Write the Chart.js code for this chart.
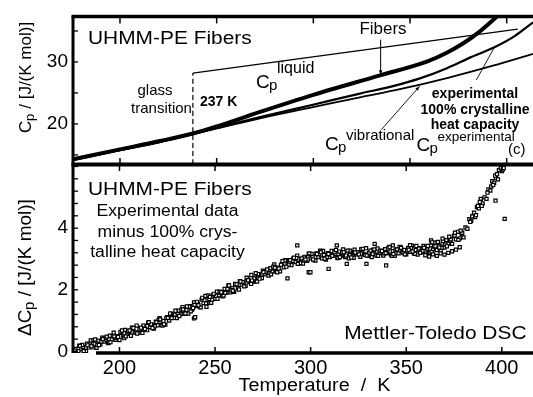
<!DOCTYPE html>
<html>
<head>
<meta charset="utf-8">
<title>UHMM-PE Fibers heat capacity</title>
<script src="https://cdn.jsdelivr.net/npm/chart.js@4"></script>
<style>
  html, body { margin: 0; padding: 0; background: #fff; }
  #wrap { position: relative; width: 533px; height: 397px; }
  #wrap canvas { position: absolute; left: 0; top: 0; }
</style>
</head>
<body>
<div id="wrap">
  <canvas id="top-chart" width="533" height="397"></canvas>
  <canvas id="bottom-chart" width="533" height="397"></canvas>
</div>
<script>
// Axis ranges and ticks
const xRange = [175.7, 413.6];
const xTicks = [200, 250, 300, 350, 400];
const topRange = [13.54, 37.35];
const topLabelTicks = [20, 30];
const topMinorTicks = [15, 25, 35];
const bottomRange = [-0.05, 6.08];
const bottomLabelTicks = [0, 2, 4];
const bottomMinorTicks = [0.4, 0.8, 1.2, 1.6, 2.4, 2.8, 3.2, 3.6, 4.4, 4.8, 5.2, 5.6, 6.0];

// Top panel curves (T in K, Cp in J/(K mol))
const fibersT  = [175.7, 200, 220, 237.7, 250, 272, 300, 334, 359, 369, 378, 386, 396];
const fibersCp = [14.3, 15.9, 17.2, 18.46, 19.6, 21.9, 24.7, 27.8, 30.1, 31.5, 33.1, 34.9, 37.6];
const crystT   = [175.7, 200, 220, 237.7, 272.4, 299.8, 324.1, 341.2, 355.1, 369.1, 381, 393.9, 404.3, 413.6];
const crystCp  = [14.2, 15.8, 17.1, 18.4, 21.1, 23.1, 24.9, 26.1, 27.35, 29.0, 30.7, 32.4, 34.2, 36.4];
const vibT     = [175.7, 200, 220, 237.7, 272.4, 299.8, 324.1, 344.8, 369.1, 392.9, 413.6];
const vibCp    = [14.2, 15.75, 17.0, 18.35, 20.9, 22.7, 24.3, 25.6, 27.4, 29.4, 31.3];
const liquidT  = [237.7, 405.7];
const liquidCp = [28.2, 35.3];
const glassT   = [237.7, 237.7];
const glassCp  = [13.54, 28.2];

// Bottom panel: experimental minus 100% crystalline
const bandT = [
  177, 178, 179, 180, 181, 182, 183, 184, 185, 186, 187, 188,
  189, 190, 191, 192, 193, 194, 195, 196, 197, 198, 199, 200,
  201, 202, 203, 204, 205, 206, 207, 208, 209, 210, 211, 212,
  213, 214, 215, 216, 217, 218, 219, 220, 221, 222, 223, 224,
  225, 226, 227, 228, 229, 230, 231, 232, 233, 234, 235, 236,
  237, 238, 239, 240, 241, 242, 243, 244, 245, 246, 247, 248,
  249, 250, 251, 252, 253, 254, 255, 256, 257, 258, 259, 260,
  261, 262, 263, 264, 265, 266, 267, 268, 269, 270, 271, 272,
  273, 274, 275, 276, 277, 278, 279, 280, 281, 282, 283, 284,
  285, 286, 287, 288, 289, 290, 291, 292, 293, 294, 295, 296,
  297, 298, 299, 300, 301, 302, 303, 304, 305, 306, 307, 308,
  309, 310, 311, 312, 313, 314, 315, 316, 317, 318, 319, 320,
  321, 322, 323, 324, 325, 326, 327, 328, 329, 330, 331, 332,
  333, 334, 335, 336, 337, 338, 339, 340, 341, 342, 343, 344,
  345, 346, 347, 348, 349, 350, 351, 352, 353, 354, 355, 356,
  357, 358, 359, 360, 361, 362, 363, 364, 365, 366, 367, 368,
  369, 370, 371, 372, 373, 374, 375, 376, 377, 378, 379, 380,
  381, 382, 383, 384, 385, 386, 387, 388, 389, 390,
  391, 392, 393, 394, 395, 396, 397, 398, 399, 400
];
const bandDCp = [
  0.08, -0.02, 0.19, 0.07, 0.14, 0.02, 0.25, 0.13, 0.36, 0.13, 0.25, 0.12,
  0.35, 0.23, 0.45, 0.32, 0.39, 0.27, 0.51, 0.39, 0.61, 0.38, 0.50, 0.37,
  0.60, 0.48, 0.70, 0.57, 0.64, 0.51, 0.74, 0.62, 0.84, 0.61, 0.73, 0.60,
  0.83, 0.71, 0.93, 0.79, 0.86, 0.74, 0.97, 0.85, 1.08, 0.86, 0.99, 0.87,
  1.11, 1.00, 1.23, 1.11, 1.19, 1.08, 1.32, 1.21, 1.44, 1.22, 1.35, 1.23,
  1.47, 1.36, 1.59, 1.47, 1.55, 1.44, 1.68, 1.57, 1.80, 1.57, 1.70, 1.58,
  1.82, 1.71, 1.94, 1.82, 1.90, 1.79, 2.03, 1.91, 2.14, 1.92, 2.05, 1.93,
  2.17, 2.06, 2.28, 2.16, 2.24, 2.13, 2.37, 2.25, 2.48, 2.26, 2.39, 2.27,
  2.50, 2.39, 2.62, 2.50, 2.58, 2.46, 2.70, 2.59, 2.82, 2.60, 2.72, 2.60,
  2.84, 2.73, 2.96, 2.83, 2.91, 2.80, 3.02, 2.90, 3.11, 2.87, 2.99, 2.85,
  3.07, 2.94, 3.16, 3.02, 3.08, 2.96, 3.18, 3.06, 3.27, 3.02, 3.13, 2.98,
  3.19, 3.06, 3.26, 3.11, 3.17, 3.03, 3.24, 3.11, 3.31, 3.06, 3.17, 3.02,
  3.23, 3.10, 3.30, 3.15, 3.21, 3.07, 3.28, 3.15, 3.35, 3.10, 3.21, 3.06,
  3.27, 3.14, 3.34, 3.19, 3.25, 3.11, 3.32, 3.19, 3.39, 3.14, 3.25, 3.10,
  3.31, 3.18, 3.38, 3.23, 3.29, 3.15, 3.36, 3.23, 3.43, 3.18, 3.29, 3.14,
  3.35, 3.22, 3.42, 3.27, 3.34, 3.21, 3.44, 3.31, 3.53, 3.29, 3.41, 3.27,
  3.50, 3.37, 3.61, 3.50, 3.59, 3.49, 3.74, 3.64, 3.88, 3.67, 3.81, 3.70,
  4.02, 3.98, 4.29, 4.24, 4.40, 4.36, 4.68, 4.64, 4.95, 4.80,
  5.00, 4.95, 5.26, 5.22, 5.52, 5.47, 5.62, 5.58, 5.89, 5.85
];
const band2T = [
  178.5, 180.5, 182.5, 184.5, 186.5, 188.5, 190.5, 192.5, 194.5, 196.5,
  198.5, 200.5, 202.5, 204.5, 206.5, 208.5, 210.5, 212.5, 214.5, 216.5,
  218.5, 220.5, 222.5, 224.5, 226.5, 228.5, 230.5, 232.5, 234.5, 236.5,
  238.5, 240.5, 242.5, 244.5, 246.5, 248.5, 250.5, 252.5, 254.5, 256.5,
  258.5, 260.5, 262.5, 264.5, 266.5, 268.5, 270.5, 272.5, 274.5, 276.5,
  278.5, 280.5, 282.5, 284.5, 286.5, 288.5, 290.5, 292.5, 294.5, 296.5,
  298.5, 300.5, 302.5, 304.5, 306.5, 308.5, 310.5, 312.5, 314.5, 316.5,
  318.5, 320.5, 322.5, 324.5, 326.5, 328.5, 330.5, 332.5, 334.5, 336.5,
  338.5, 340.5, 342.5, 344.5, 346.5, 348.5, 350.5, 352.5, 354.5, 356.5,
  358.5, 360.5, 362.5, 364.5, 366.5, 368.5, 370.5
];
const band2DCp = [
  0.01, 0.21, 0.01, 0.23, 0.37, 0.21, 0.32, 0.44, 0.29, 0.50,
  0.44, 0.63, 0.43, 0.65, 0.77, 0.61, 0.72, 0.84, 0.69, 0.88,
  0.82, 1.02, 0.84, 1.08, 1.23, 1.09, 1.22, 1.36, 1.23, 1.45,
  1.41, 1.61, 1.43, 1.67, 1.82, 1.68, 1.80, 1.94, 1.81, 2.03,
  1.99, 2.19, 2.01, 2.25, 2.39, 2.25, 2.37, 2.51, 2.38, 2.59,
  2.55, 2.75, 2.57, 2.81, 2.95, 2.81, 2.93, 3.03, 2.87, 3.05,
  2.98, 3.16, 2.95, 3.16, 3.26, 3.06, 3.14, 3.22, 3.04, 3.21,
  3.11, 3.27, 3.04, 3.22, 3.32, 3.13, 3.20, 3.29, 3.11, 3.27,
  3.18, 3.34, 3.10, 3.29, 3.39, 3.19, 3.27, 3.36, 3.17, 3.34,
  3.25, 3.41, 3.20, 3.41, 3.53, 3.36, 3.47
];
const band3T = [
  179.3, 181.3, 183.3, 185.3, 187.3, 189.3, 191.3, 193.3, 195.3, 197.3,
  199.3, 201.3, 203.3, 205.3, 207.3, 209.3, 211.3, 213.3, 215.3, 217.3,
  219.3, 221.3, 223.3, 225.3, 227.3, 229.3, 231.3, 233.3, 235.3, 237.3,
  239.3, 241.3, 243.3, 245.3, 247.3, 249.3, 251.3, 253.3, 255.3, 257.3,
  259.3, 261.3, 263.3, 265.3, 267.3, 269.3, 271.3, 273.3, 275.3, 277.3,
  279.3, 281.3, 283.3, 285.3, 287.3, 289.3, 291.3, 293.3, 295.3, 297.3,
  299.3, 301.3, 303.3, 305.3, 307.3, 309.3, 311.3, 313.3, 315.3, 317.3,
  319.3, 321.3, 323.3, 325.3, 327.3, 329.3, 331.3, 333.3, 335.3, 337.3,
  339.3, 341.3, 343.3, 345.3, 347.3, 349.3, 351.3, 353.3, 355.3, 357.3,
  359.3, 361.3, 363.3, 365.3, 367.3, 369.3, 371.3, 373.3, 375.3, 377.3,
  379.3
];
const band3DCp = [
  0.18, 0.01, 0.20, 0.17, 0.39, 0.21, 0.40, 0.48, 0.30, 0.49,
  0.47, 0.68, 0.49, 0.68, 0.76, 0.58, 0.77, 0.73, 0.95, 0.76,
  0.95, 1.04, 0.88, 1.09, 1.08, 1.32, 1.15, 1.36, 1.46, 1.30,
  1.51, 1.50, 1.74, 1.56, 1.77, 1.87, 1.71, 1.92, 1.90, 2.14,
  1.97, 2.18, 2.27, 2.11, 2.31, 2.30, 2.54, 2.36, 2.57, 2.66,
  2.50, 2.71, 2.69, 2.93, 2.75, 2.96, 3.04, 2.84, 3.02, 2.98,
  3.18, 2.98, 3.16, 3.22, 3.01, 3.16, 3.10, 3.29, 3.06, 3.22,
  3.27, 3.05, 3.21, 3.15, 3.33, 3.11, 3.27, 3.31, 3.10, 3.26,
  3.19, 3.38, 3.16, 3.31, 3.36, 3.15, 3.30, 3.24, 3.42, 3.20,
  3.36, 3.42, 3.23, 3.41, 3.37, 3.58, 3.41, 3.64, 3.76, 3.62,
  3.85
];
const extraT = [
  360, 362, 364, 366, 368, 370, 372, 374, 376, 378,
  363, 366.5, 369, 372.5, 375.5, 378.5,
  383.5, 384.5, 385.5, 386.5, 387.5, 388.5, 389.5,
  392.5, 394.5, 395.5, 396.5, 397.5, 398.5, 399.5, 400.5, 401,
  396.7, 401.5, 239, 239.6,
  287.9, 299, 299.9, 309.4, 318.9, 329.2, 339.5,
  293, 313.7, 333.5, 343, 352, 363.6,
  268.9, 245.5, 176.5
];
const extraDCp = [
  3.12, 3.08, 3.15, 3.10, 3.18, 3.14, 3.20, 3.25, 3.30, 3.38,
  3.60, 3.55, 3.66, 3.72, 3.85, 3.92,
  4.20, 4.38, 4.50, 4.42, 4.72, 4.85, 4.72,
  5.15, 5.35, 5.40, 5.70, 5.75, 5.88, 5.95, 5.90, 5.95,
  4.89, 4.30, 1.07, 1.11,
  2.37, 2.57, 2.57, 2.68, 2.84, 2.84, 2.79,
  3.44, 3.44, 3.49, 3.44, 3.45, 3.54,
  2.19, 1.45, 0.03
];

const FONT = '"Liberation Sans", Arial, Helvetica, sans-serif';
Chart.defaults.font.family = FONT;
Chart.defaults.color = '#000';

function pairs(xs, ys) {
  return xs.map((x, i) => ({ x: x, y: ys[i] }));
}

function seg(ctx, x1, y1, x2, y2, w) {
  ctx.lineWidth = w;
  ctx.beginPath();
  ctx.moveTo(x1, y1);
  ctx.lineTo(x2, y2);
  ctx.stroke();
}

function arrowHead(ctx, x1, y1, x2, y2, len) {
  const a = Math.atan2(y2 - y1, x2 - x1);
  ctx.beginPath();
  ctx.moveTo(x2, y2);
  ctx.lineTo(x2 - len * Math.cos(a - 0.35), y2 - len * Math.sin(a - 0.35));
  ctx.lineTo(x2 - len * Math.cos(a + 0.35), y2 - len * Math.sin(a + 0.35));
  ctx.closePath();
  ctx.fill();
}

// text with optional horizontal stretch
function txt(ctx, s, x, y, size, align, sx, bold, base) {
  ctx.save();
  ctx.font = (bold ? 'bold ' : '') + size + 'px ' + FONT;
  ctx.textAlign = align || 'left';
  ctx.textBaseline = base || 'middle';
  ctx.translate(x, y);
  ctx.scale(sx || 1, 1);
  ctx.fillText(s, 0, 0);
  ctx.restore();
}

// C with subscript p and superscript label; (x, y) = left / baseline of C
function cpLabel(ctx, x, y, sup, supSize, supDy) {
  txt(ctx, 'C', x, y, 19, 'left', 1, false, 'alphabetic');
  txt(ctx, 'p', x + 13, y + 2, 15, 'left', 1, false, 'alphabetic');
  txt(ctx, sup, x + 21, y + supDy, supSize, 'left', 1, false, 'alphabetic');
}

function drawTop(ctx, a, xs, ys) {
  // frame
  seg(ctx, a.left - 1.5, a.top, 533, a.top, 3.5);
  seg(ctx, a.left, a.top, a.left, a.bottom, 3);
  seg(ctx, a.left - 1.5, a.bottom + 0.5, 533, a.bottom + 0.5, 4);
  xTicks.forEach(v => {
    const px = xs.getPixelForValue(v);
    seg(ctx, px, a.top, px, a.top + 7, 1.5);
    seg(ctx, px, a.bottom, px, a.bottom - 6, 1.5);
  });
  topLabelTicks.concat(topMinorTicks).forEach(v => {
    const py = ys.getPixelForValue(v);
    seg(ctx, a.left, py, a.left + 5, py, 1.3);
  });

  // arrows
  const P = (t, c) => [xs.getPixelForValue(t), ys.getPixelForValue(c)];
  let p1 = P(334.8, 33.6), p2 = P(334.8, 27.9);
  seg(ctx, p1[0], p1[1], p2[0], p2[1], 1);
  arrowHead(ctx, p1[0], p1[1], p2[0], p2[1], 5);
  p1 = P(384.3, 27.1); p2 = P(393.5, 32.3);
  seg(ctx, p1[0], p1[1], p2[0], p2[1], 0.9);
  p1 = P(335.2, 19.1); p2 = P(355, 26.1);
  seg(ctx, p1[0], p1[1], p2[0], p2[1], 0.9);
  arrowHead(ctx, p1[0], p1[1], p2[0], p2[1], 5);

  // labels
  txt(ctx, 'UHMM-PE Fibers', 88, 39, 19, 'left', 1.1);
  txt(ctx, 'glass', 155, 91, 15, 'center');
  txt(ctx, 'transition', 161.5, 108.5, 15, 'center');
  txt(ctx, '237 K', 200, 102, 14, 'left', 1, true);
  cpLabel(ctx, 256, 87.5, 'liquid', 16, -15);
  txt(ctx, 'Fibers', 383, 29, 17, 'center');
  txt(ctx, 'experimental', 475, 94, 14, 'center', 1, true);
  txt(ctx, '100% crystalline', 475, 110, 14, 'center', 1, true);
  txt(ctx, 'heat capacity', 475, 125.5, 14, 'center', 1, true);
  cpLabel(ctx, 325, 150, 'vibrational', 15, -10);
  cpLabel(ctx, 416.5, 150.5, 'experimental', 13.5, -9.5);
  txt(ctx, '(c)', 508, 149.5, 15, 'left');

  // y title
  ctx.save();
  ctx.translate(24.5, 133);
  ctx.rotate(-Math.PI / 2);
  txt(ctx, 'C', 0, 6, 17, 'left', 1, false, 'alphabetic');
  txt(ctx, 'p', 12, 9, 13, 'left', 1, false, 'alphabetic');
  txt(ctx, ' / [J/(K mol)]', 19.5, 6, 17, 'left', 1, false, 'alphabetic');
  ctx.restore();
}

function drawBottom(ctx, a, xs, ys) {
  seg(ctx, a.left, a.top, a.left, a.bottom, 3);
  seg(ctx, 96, a.bottom, 533, a.bottom, 3.5);
  xTicks.forEach(v => {
    const px = xs.getPixelForValue(v);
    seg(ctx, px, a.top, px, a.top + 7, 1.5);
    seg(ctx, px, a.bottom, px, a.bottom - 6, 1.5);
  });
  bottomLabelTicks.concat(bottomMinorTicks).forEach(v => {
    const py = ys.getPixelForValue(v);
    seg(ctx, a.left, py, a.left + 5, py, 1.3);
  });

  txt(ctx, 'UHMM-PE Fibers', 88, 190, 19, 'left', 1.1);
  txt(ctx, 'Experimental data', 167.5, 212, 16, 'center', 1.1);
  txt(ctx, 'minus 100% crys-', 167.5, 232.5, 16, 'center', 1.1);
  txt(ctx, 'talline heat capacity', 167.5, 252.5, 16, 'center', 1.1);
  txt(ctx, 'Mettler-Toledo DSC', 526.5, 334, 19, 'right', 1.1);
  txt(ctx, 'Temperature  /  K', 238.5, 386.5, 18, 'left', 1.1);

  ctx.save();
  ctx.translate(24.5, 336);
  ctx.rotate(-Math.PI / 2);
  txt(ctx, '\u0394C', 0, 6.5, 19, 'left', 1, false, 'alphabetic');
  txt(ctx, 'p', 26, 9.5, 15, 'left', 1, false, 'alphabetic');
  txt(ctx, ' / [J/(K mol)]', 34.5, 6.5, 19, 'left', 1, false, 'alphabetic');
  ctx.restore();
}

const panelDecor = {
  id: 'panelDecor',
  afterDraw(chart, args, opts) {
    const ctx = chart.ctx;
    ctx.save();
    ctx.strokeStyle = '#000';
    ctx.fillStyle = '#000';
    if (opts.which === 'top') drawTop(ctx, chart.chartArea, chart.scales.x, chart.scales.y);
    else drawBottom(ctx, chart.chartArea, chart.scales.x, chart.scales.y);
    ctx.restore();
  }
};

function lineSet(xs, ys, width, dash) {
  return {
    data: pairs(xs, ys),
    borderColor: '#000',
    borderWidth: width,
    borderDash: dash || [],
    pointRadius: 0,
    cubicInterpolationMode: 'monotone',
    fill: false
  };
}

function yAxis(range, labels, fontSize) {
  return {
    min: range[0],
    max: range[1],
    afterFit: s => { s.width = 73; },
    afterBuildTicks: s => { s.ticks = labels.map(v => ({ value: v })); },
    grid: { display: false, drawTicks: false },
    border: { display: false },
    ticks: { font: { size: fontSize }, color: '#000', padding: 5 }
  };
}

new Chart(document.getElementById('top-chart'), {
  type: 'line',
  data: {
    datasets: [
      lineSet(fibersT, fibersCp, 4),
      lineSet(crystT, crystCp, 2.2),
      lineSet(vibT, vibCp, 1.8),
      lineSet(liquidT, liquidCp, 1.3),
      lineSet(glassT, glassCp, 1.2, [5, 3])
    ]
  },
  options: {
    responsive: false,
    animation: false,
    devicePixelRatio: 1,
    layout: { padding: { top: 14, bottom: 233, left: 0, right: 0 } },
    plugins: { legend: { display: false }, tooltip: { enabled: false }, panelDecor: { which: 'top' } },
    scales: {
      x: { type: 'linear', min: xRange[0], max: xRange[1], display: false },
      y: yAxis(topRange, topLabelTicks, 19)
    }
  },
  plugins: [panelDecor]
});

const scatterPts = pairs(bandT, bandDCp).concat(
  pairs(band2T, band2DCp), pairs(band3T, band3DCp), pairs(extraT, extraDCp));

new Chart(document.getElementById('bottom-chart'), {
  type: 'scatter',
  data: {
    datasets: [{
      data: scatterPts,
      pointStyle: 'rect',
      pointRadius: 2.2,
      borderWidth: 1.2,
      borderColor: '#000',
      backgroundColor: '#fff'
    }]
  },
  options: {
    responsive: false,
    animation: false,
    devicePixelRatio: 1,
    layout: { padding: { top: 164, bottom: 0, left: 0, right: 0 } },
    plugins: { legend: { display: false }, tooltip: { enabled: false }, panelDecor: { which: 'bottom' } },
    scales: {
      x: {
        type: 'linear',
        min: xRange[0],
        max: xRange[1],
        afterFit: s => { s.height = 44; },
        afterBuildTicks: s => { s.ticks = xTicks.map(v => ({ value: v })); },
        grid: { display: false, drawTicks: false },
        border: { display: false },
        ticks: { font: { size: 20 }, color: '#000', padding: 3, maxRotation: 0, autoSkip: false }
      },
      y: yAxis(bottomRange, bottomLabelTicks, 19)
    }
  },
  plugins: [panelDecor]
});
</script>
</body>
</html>
